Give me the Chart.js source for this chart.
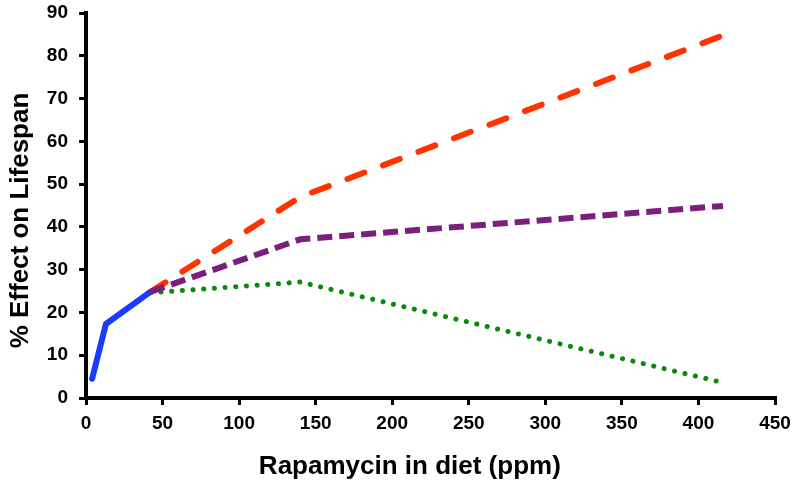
<!DOCTYPE html>
<html>
<head>
<meta charset="utf-8">
<script src="https://cdn.jsdelivr.net/npm/chart.js@4/dist/chart.umd.min.js"></script>
<style>
  html, body { margin: 0; padding: 0; background: #fff; }
  #wrap { width: 800px; height: 493px; position: relative; }
</style>
</head>
<body>
<div id="wrap"><canvas id="c" width="800" height="493"></canvas></div>
<script>
// Data
const lowDoseX = [4, 13, 42];
const lowDoseY = [4.5, 17.3, 24.8];

const branchX = [42, 140, 420];
const upperY = [24.8, 47, 85.3];          // red long dash

const middleX = [42, 140, 416];
const middleY = [24.8, 37.1, 44.9];       // purple dash

const lowerX = [42, 140, 416];
const lowerY = [24.6, 27.1, 3.6];         // green dotted

const xTicks = [0, 50, 100, 150, 200, 250, 300, 350, 400, 450];
const yTicks = [0, 10, 20, 30, 40, 50, 60, 70, 80, 90];

const xTitle = 'Rapamycin in diet (ppm)';
const yTitle = '% Effect on Lifespan';

function pts(xs, ys) { return xs.map((x, i) => ({ x: x, y: ys[i] })); }

const FONT = "'Liberation Sans', Arial, Helvetica, sans-serif";

const axisTitles = {
  id: 'axisTitles',
  afterDraw(chart) {
    const ctx = chart.ctx;
    const a = chart.chartArea;
    ctx.save();
    ctx.fillStyle = '#000';
    ctx.font = 'bold 26px ' + FONT;
    ctx.textAlign = 'center';
    ctx.textBaseline = 'middle';
    ctx.fillText(xTitle, a.left + (a.right - a.left) * 0.470, 467);
    ctx.translate(21, a.top + (a.bottom - a.top) * 0.539);
    ctx.rotate(-Math.PI / 2);
    ctx.fillText(yTitle, 0, 0);
    ctx.restore();
  }
};

new Chart(document.getElementById('c'), {
  type: 'scatter',
  data: {
    datasets: [
      {
        data: pts(middleX, middleY),
        showLine: true, borderColor: '#7b1f7e', borderWidth: 6,
        borderDash: [15, 7], borderCapStyle: 'butt', pointRadius: 0, order: 0
      },
      {
        data: pts(lowDoseX, lowDoseY),
        showLine: true, borderColor: '#1a3cff', borderWidth: 6,
        borderCapStyle: 'round', borderJoinStyle: 'round', pointRadius: 0, order: 1
      },
      {
        data: pts(branchX, upperY),
        showLine: true, borderColor: '#ff3300', borderWidth: 6,
        borderDash: [18, 20], borderCapStyle: 'round', pointRadius: 0, order: 2
      },
      {
        data: pts(lowerX, lowerY),
        showLine: true, borderColor: '#0a8a0a', borderWidth: 5,
        borderDash: [0.1, 10.6], borderCapStyle: 'round', pointRadius: 0, order: 3
      }
    ]
  },
  options: {
    responsive: false,
    animation: false,
    events: [],
    layout: { padding: { left: 0, right: 25, top: 13, bottom: 0 } },
    plugins: { legend: { display: false }, tooltip: { enabled: false } },
    scales: {
      x: {
        type: 'linear', min: 0, max: 450,
        afterBuildTicks(s) { s.ticks = xTicks.map(v => ({ value: v })); },
        afterFit(s) { s.height = 95; s.paddingLeft = 0; s.paddingRight = 0; },
        border: { display: true, color: '#000', width: 4 },
        grid: { drawOnChartArea: false, drawTicks: true, tickLength: 7, lineWidth: 3, color: '#000' },
        ticks: { color: '#000', padding: 7, font: { family: FONT, size: 19, weight: 'bold' }, maxRotation: 0 }
      },
      y: {
        type: 'linear', min: 0, max: 90,
        afterBuildTicks(s) { s.ticks = yTicks.map(v => ({ value: v })); },
        afterFit(s) { s.width = 86; s.paddingTop = 0; s.paddingBottom = 0; },
        border: { display: true, color: '#000', width: 4 },
        grid: { drawOnChartArea: false, drawTicks: true, tickLength: 7, lineWidth: 3, color: '#000' },
        ticks: { color: '#000', padding: 11, font: { family: FONT, size: 19, weight: 'bold' } }
      }
    }
  },
  plugins: [axisTitles]
});
</script>
</body>
</html>
